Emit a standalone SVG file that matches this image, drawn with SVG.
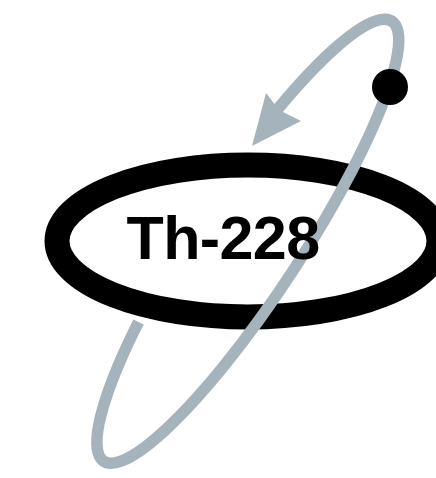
<svg xmlns="http://www.w3.org/2000/svg" width="436" height="478" viewBox="0 0 436 478">
<style>
.nucleus{fill:#fff;stroke:#000;stroke-width:25}
.orbit{fill:none;stroke:#a5b3bd;stroke-width:11.5;stroke-linecap:butt}
.head{fill:#a5b3bd}
.label{font-family:"Liberation Sans",Arial,Helvetica,sans-serif;font-weight:bold;font-size:61px;fill:#000}
.electron{fill:#000}
</style>
<rect width="436" height="478" fill="#fff"/>
<g id="nucleus"><ellipse class="nucleus" cx="248" cy="241" rx="191" ry="76"/></g>
<g id="connectors">
<path class="orbit" d="M138.5,322 A263,54 -56.8 1 0 277,110"/>
<polygon class="head" points="252,146 266,93 279,110 301,121"/>
</g>
<g id="label"><text class="label" x="126.5" y="259" letter-spacing="-0.6">Th-228</text></g>
<g id="electron"><circle class="electron" cx="390" cy="87" r="18"/></g>
</svg>
